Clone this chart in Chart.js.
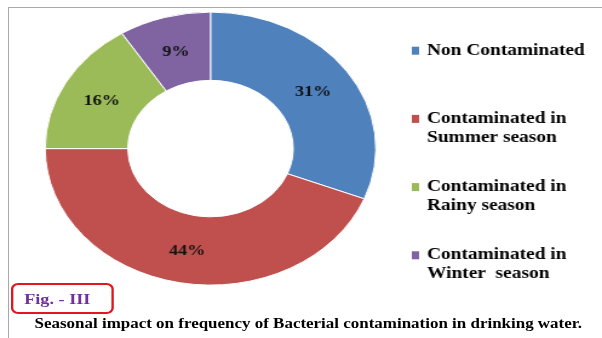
<!DOCTYPE html>
<html>
<head>
<meta charset="utf-8">
<script src="https://cdn.jsdelivr.net/npm/chart.js@4.4.0/dist/chart.umd.min.js"></script>
<style>
  html, body { margin: 0; padding: 0; background: #fff; }
  #page { position: relative; width: 602px; height: 338px; overflow: hidden; }
  #frame { position: absolute; left: 8px; top: 7px; right: -4px; bottom: -4px;
    border-top: 1px solid #a8a8a8; border-left: 1px solid #a8a8a8; }
  /* the original picture is stretched sideways, so the whole chart is too */
  #stretch { position: absolute; left: 0; top: 0; width: 497px; height: 338px;
    transform: scaleX(1.2113); transform-origin: 0 0; }
  #figBox { position: absolute; left: 9px; top: 283px; width: 72px; height: 27px;
    padding-left: 9px; border: 2px solid #e3161e; border-radius: 6px;
    font: bold 15px "Liberation Serif", serif; line-height: 28px; color: #7030a0; }
  #caption { position: absolute; left: 0; top: 316px; width: 509px; text-align: center;
    font: bold 14px "Liberation Serif", serif; line-height: 16px; color: #000; }
</style>
</head>
<body>
<div id="page">
  <div id="frame"></div>
  <div id="stretch">
    <canvas id="seasonChart" width="497" height="338"></canvas>
    <div id="figBox">Fig. - III</div>
    <div id="caption">Seasonal impact on frequency of Bacterial contamination in drinking water.</div>
  </div>
</div>
<script>
var categories = [
  ['Non Contaminated'],
  ['Contaminated in', 'Summer season'],
  ['Contaminated in', 'Rainy season'],
  ['Contaminated in', 'Winter  season']
];
var shares = [31, 44, 16, 9];
var colors = ['#4f81bd', '#c0504d', '#9bbb59', '#8064a2'];

// percentages in the middle of each ring segment
var sliceLabels = {
  id: 'sliceLabels',
  afterDatasetsDraw: function(chart) {
    var ctx = chart.ctx;
    ctx.save();
    ctx.font = 'bold 15px "Liberation Serif"';
    ctx.fillStyle = '#111';
    ctx.textAlign = 'center';
    ctx.textBaseline = 'middle';
    chart.getDatasetMeta(0).data.forEach(function(arc, i) {
      var p = arc.tooltipPosition();
      ctx.fillText(chart.data.datasets[0].data[i] + '%', p.x, p.y + 1.5);
    });
    ctx.restore();
  }
};

// legend on the right, spaced like the original
var sideLegend = {
  id: 'sideLegend',
  afterDraw: function(chart, args, opts) {
    var ctx = chart.ctx;
    var ds = chart.data.datasets[0];
    ctx.save();
    ctx.font = 'bold 16px "Liberation Serif"';
    ctx.textBaseline = 'middle';
    chart.data.labels.forEach(function(lines, i) {
      var y = opts.top + i * opts.step;
      ctx.fillStyle = ds.backgroundColor[i];
      ctx.fillRect(opts.x, y - 4, 6, 8);
      ctx.fillStyle = '#000';
      lines.forEach(function(line, j) {
        ctx.fillText(line, opts.x + 12.5, y + j * opts.lineGap);
      });
    });
    ctx.restore();
  }
};

var ctx = document.getElementById('seasonChart').getContext('2d');
var seasonChart = new Chart(ctx, {
  type: 'doughnut',
  data: {
    labels: categories,
    datasets: [{
      data: shares,
      backgroundColor: colors,
      borderColor: '#ffffff',
      borderWidth: 1
    }]
  },
  options: {
    responsive: false,
    animation: false,
    events: [],
    cutout: '50%',
    layout: { padding: { left: 36.8, right: 186.2, top: 11.5, bottom: 52.3 } },
    plugins: {
      legend: { display: false },
      tooltip: { enabled: false },
      sideLegend: { x: 340, top: 50.7, step: 68.2, lineGap: 19 }
    }
  },
  plugins: [sliceLabels, sideLegend]
});
</script>
</body>
</html>
